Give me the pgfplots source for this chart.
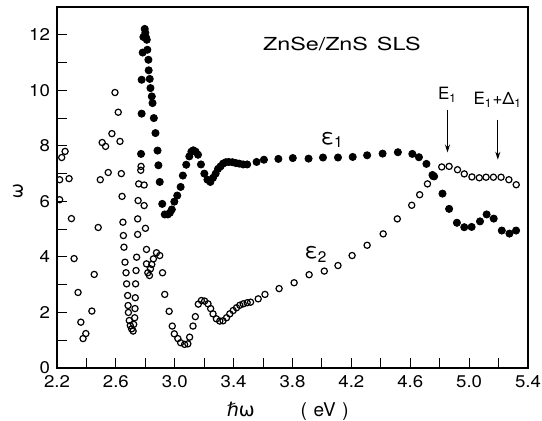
\documentclass[border=0pt]{standalone}
\usepackage{fontspec}
\setmainfont{TeX Gyre Heros}
\newfontfamily\dv{DejaVu Sans}
\usepackage{pgfplots}
\pgfplotsset{compat=1.18}
\usetikzlibrary{arrows.meta,calc}

\pgfplotstableread{
x y
2.771 7.71
2.775 9.16
2.775 10.38
2.782 11.36
2.787 11.92
2.796 12.21
2.800 12.07
2.806 11.89
2.810 11.82
2.814 11.46
2.821 11.10
2.823 10.72
2.830 10.41
2.835 10.08
2.844 9.78
2.849 9.54
2.858 9.00
2.869 8.46
2.883 7.83
2.889 7.30
2.898 6.70
2.915 5.91
2.932 5.53
2.953 5.53
2.967 5.59
2.980 5.71
2.997 5.99
3.017 6.21
3.040 6.52
3.055 6.93
3.078 7.32
3.099 7.62
3.113 7.79
3.126 7.84
3.142 7.79
3.158 7.68
3.178 7.33
3.201 7.00
3.222 6.78
3.242 6.70
3.260 6.85
3.278 7.00
3.294 7.17
3.311 7.26
3.328 7.36
3.347 7.41
3.367 7.42
3.392 7.41
3.415 7.38
3.438 7.36
3.465 7.33
3.492 7.33
3.556 7.42
3.606 7.50
3.704 7.53
3.802 7.56
3.909 7.54
4.007 7.58
4.109 7.58
4.209 7.60
4.307 7.66
4.412 7.72
4.516 7.77
4.614 7.71
4.659 7.59
4.710 7.35
4.751 6.95
4.762 6.90
4.819 6.28
4.864 5.73
4.917 5.23
4.967 5.07
5.017 5.08
5.074 5.28
5.119 5.53
5.167 5.38
5.222 4.95
5.274 4.84
5.319 4.95
}\epsone

\pgfplotstableread{
x y
2.218 6.78
2.218 6.06
2.232 7.58
2.255 7.80
2.282 6.82
2.298 5.38
2.316 3.94
2.343 2.72
2.362 1.65
2.377 1.06
2.396 1.24
2.437 2.05
2.453 3.37
2.480 5.06
2.494 6.78
2.507 8.12
2.530 7.98
2.548 7.04
2.573 8.44
2.594 9.92
2.616 9.21
2.628 8.16
2.637 7.00
2.642 6.18
2.648 5.25
2.651 4.77
2.655 4.35
2.662 3.81
2.669 3.43
2.673 3.03
2.680 2.61
2.683 2.25
2.685 2.00
2.691 1.71
2.698 1.53
2.707 1.41
2.717 1.33
2.721 1.57
2.728 1.81
2.730 2.14
2.732 2.53
2.734 3.03
2.737 3.51
2.741 3.99
2.748 4.81
2.748 5.37
2.751 6.03
2.755 6.63
2.769 7.12
2.771 7.26
2.792 6.59
2.792 5.85
2.801 5.03
2.808 4.27
2.808 3.75
2.817 3.43
2.828 3.33
2.835 3.57
2.844 3.73
2.855 3.93
2.876 4.15
2.898 4.05
2.917 3.43
2.932 2.65
2.962 2.04
2.983 1.51
2.997 1.23
3.021 1.06
3.040 0.91
3.067 0.85
3.089 0.87
3.101 1.11
3.124 1.51
3.140 1.85
3.160 2.30
3.181 2.43
3.203 2.41
3.226 2.31
3.244 2.14
3.260 1.95
3.283 1.77
3.306 1.69
3.328 1.70
3.352 1.81
3.374 1.95
3.397 2.07
3.420 2.17
3.442 2.26
3.465 2.31
3.492 2.35
3.515 2.37
3.567 2.49
3.613 2.65
3.709 2.86
3.811 3.07
3.913 3.36
4.016 3.49
4.109 3.69
4.205 4.05
4.307 4.42
4.416 4.83
4.512 5.37
4.610 5.86
4.664 6.24
4.717 6.63
4.755 6.90
4.814 7.24
4.864 7.26
4.921 7.14
4.967 6.99
5.019 6.88
5.069 6.85
5.115 6.87
5.165 6.87
5.217 6.87
5.270 6.78
5.320 6.60
}\epstwo

\begin{document}
\begin{tikzpicture}
\begin{axis}[
  scale only axis,
  width=235.5bp, height=180.5bp,
  xmin=2.2, xmax=5.4, ymin=0, ymax=13,
  xtick={2.2,2.6,...,5.41},
  minor xtick={2.4,2.8,...,5.3},
  ytick={0,2,...,12},
  minor ytick={1,3,...,11},
  xtick pos=bottom, ytick pos=left,
  tick align=inside,
  major tick length=5bp, minor tick length=5bp,
  every tick/.style={black, line width=0.5bp},
  axis line style={line width=1bp},
  xticklabel style={/pgf/number format/.cd, fixed, fixed zerofill, precision=1},
  /pgf/number format/assume math mode=true,
  tick label style={font=\addfontfeature{FakeStretch=1.1}\fontsize{8.5}{10}\selectfont},
  xlabel={{\dv\fontsize{9.5}{11}\selectfont ℏω}\hspace{2.3em}\fontsize{9.5}{11}\selectfont(\hspace{0.35em}eV\hspace{0.35em})},
  ylabel={\fontsize{11}{12}\selectfont ε},
  xlabel style={at={(axis description cs:0.49,-0.119)}, anchor=center},
  ylabel style={at={(axis description cs:-0.083,0.49)}, anchor=center, rotate=90},
  clip=false,
]
\addplot[only marks, mark=*, mark size=1.8bp, black] table {\epsone};
\addplot[only marks, mark=o, mark size=1.55bp, black, mark options={line width=0.6bp}] table {\epstwo};

\node[font=\addfontfeature{FakeStretch=1.3}\fontsize{9}{10}\selectfont] at (axis cs:4.135,11.68) {ZnSe/ZnS\hspace{0.5em}SLS};
\node[font=\fontsize{11}{12}\selectfont] at (axis cs:4.07,8.22) {ε\textsubscript{1}};
\node[font=\fontsize{11}{12}\selectfont] at (axis cs:3.96,4.09) {ε\textsubscript{2}};

\draw[-{Stealth[length=4bp,width=2.5bp]}, line width=0.5bp] (axis cs:4.853,9.30) -- (axis cs:4.853,7.76);
\draw[-{Stealth[length=4bp,width=2.5bp]}, line width=0.5bp] (axis cs:5.195,8.94) -- (axis cs:5.195,7.50);
\node[font=\fontsize{8.5}{10}\selectfont] at (axis cs:4.853,9.84) {E\textsubscript{1}};
\node[font=\fontsize{8.5}{10}\selectfont] at (axis cs:5.195,9.66) {E\textsubscript{1}+Δ\textsubscript{1}};
\end{axis}
\pgfresetboundingbox
\useasboundingbox ($(current axis.south west)+(-28.5bp,-26.2bp)$) rectangle ($(current axis.north east)+(7bp,3.5bp)$);
\end{tikzpicture}
\end{document}
